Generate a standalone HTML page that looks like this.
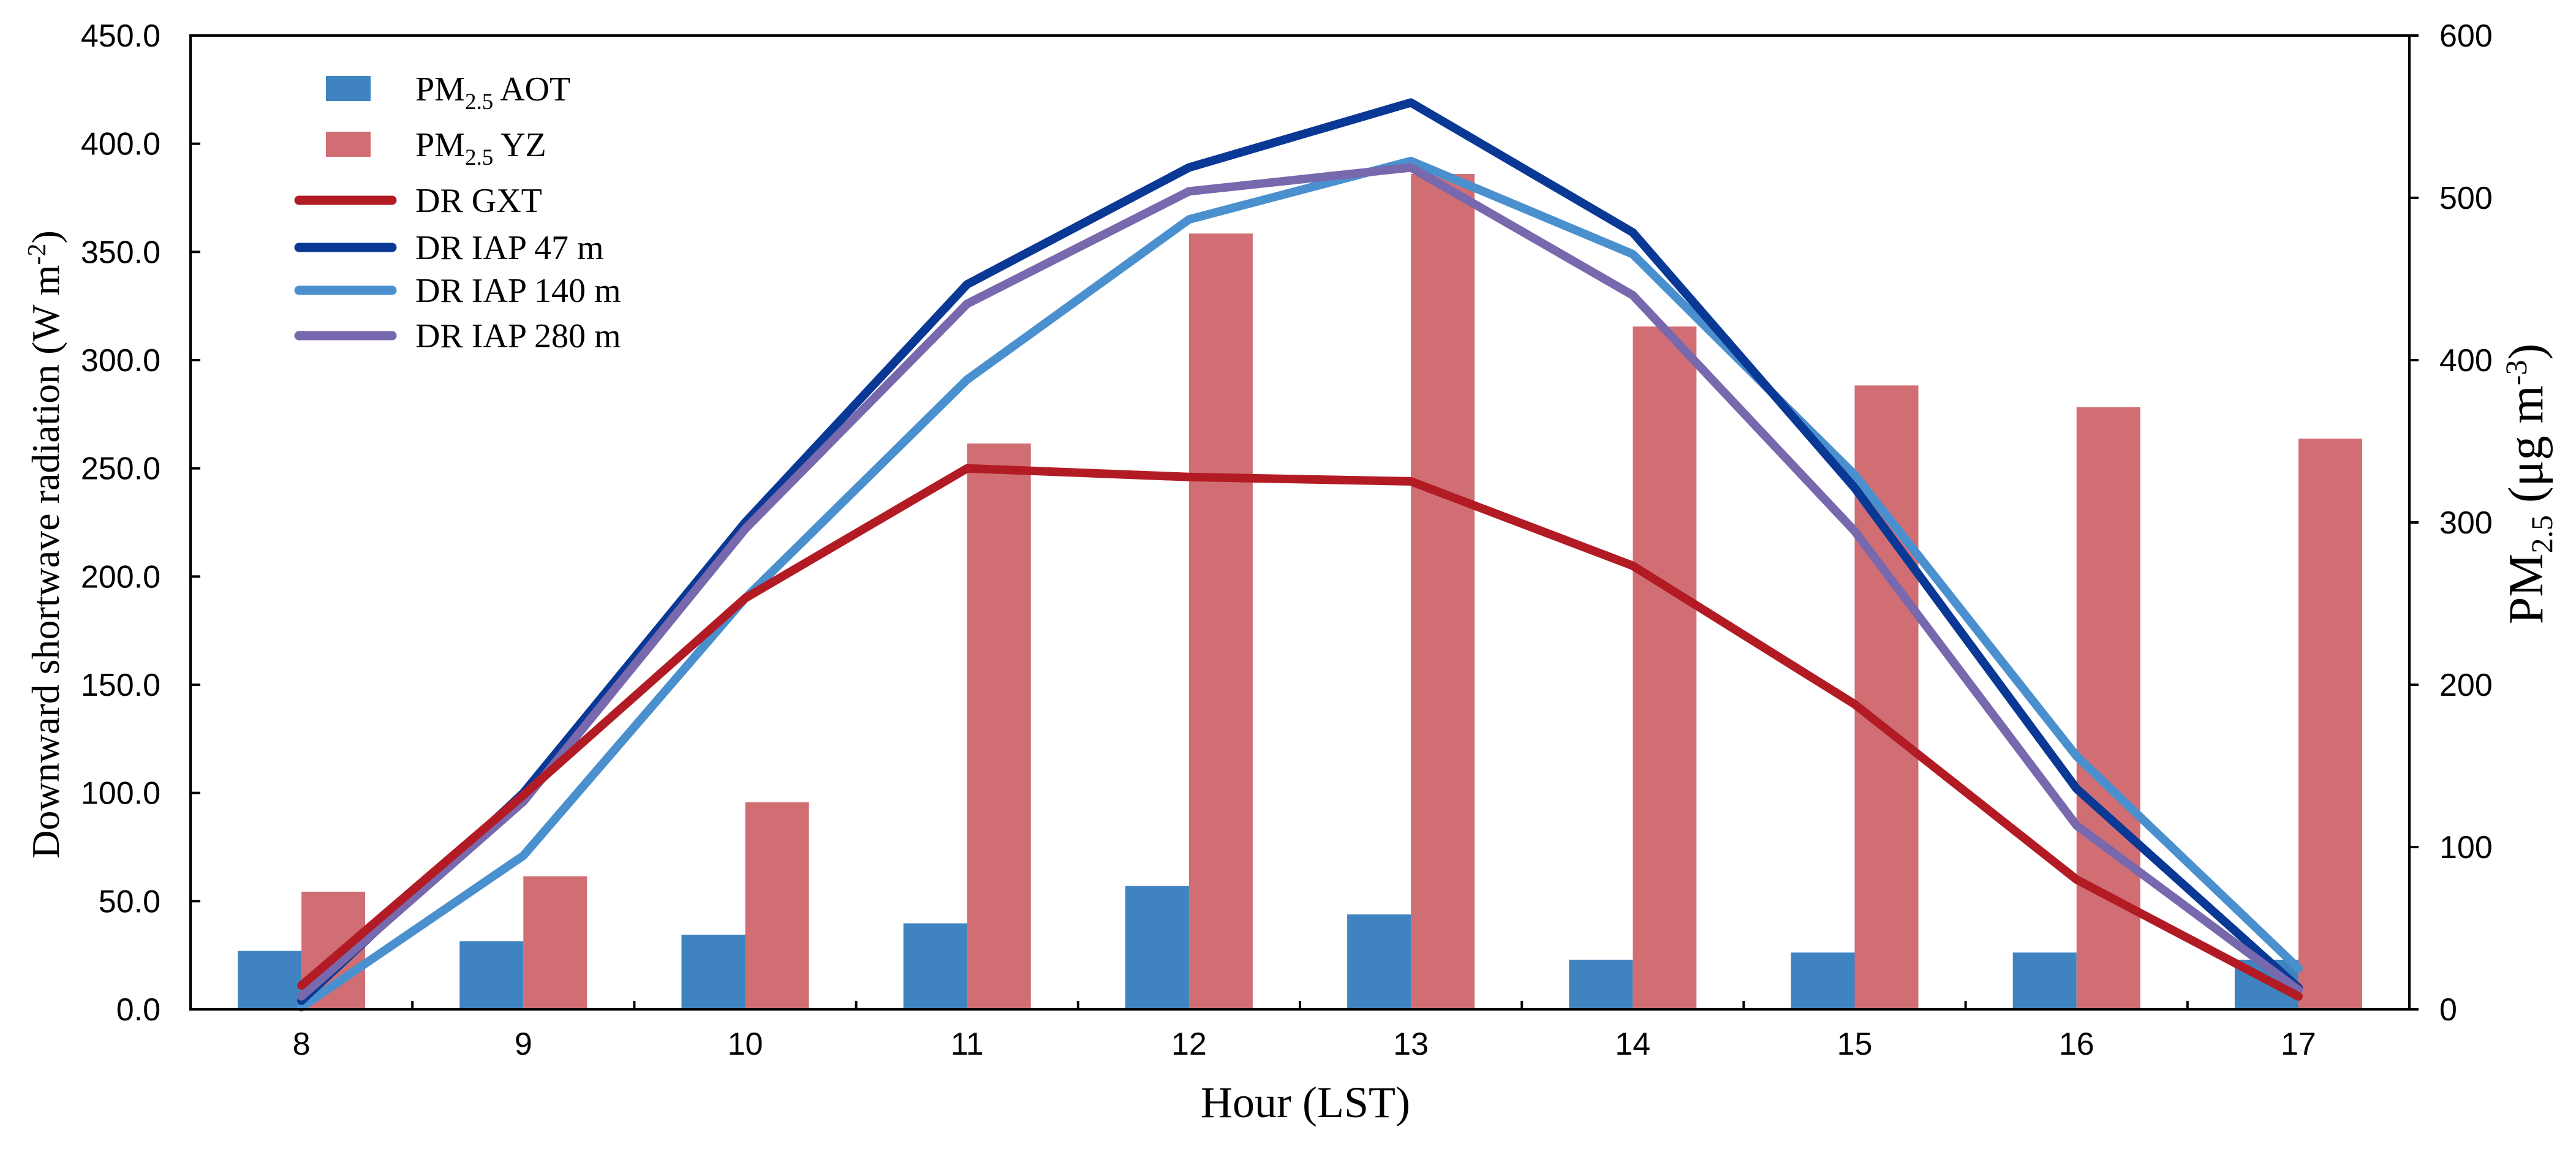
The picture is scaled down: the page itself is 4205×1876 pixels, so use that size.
<!DOCTYPE html>
<html><head><meta charset="utf-8"><style>
html,body{margin:0;padding:0;background:#fff;}
svg{display:block;}
</style></head><body>
<svg id="chart" xmlns="http://www.w3.org/2000/svg" width="4205" height="1876" viewBox="0 0 4205 1876">
<rect x="0" y="0" width="4205" height="1876" fill="#fff"/>
<g id="bars"></g>
<g id="lines"></g>
<g id="axes"></g>
<g id="legend"></g>
<text x="2131" y="1824" text-anchor="middle" font-family="Liberation Serif, serif" font-size="72">Hour (LST)</text>
<text transform="translate(96,889) rotate(-90)" text-anchor="middle" font-family="Liberation Serif, serif" font-size="64">Downward shortwave radiation  (W m<tspan dy="-22" font-size="42">-2</tspan><tspan dy="22">)</tspan></text>
<text transform="translate(4150,790) rotate(-90)" text-anchor="middle" font-family="Liberation Serif, serif" font-size="80">PM<tspan dy="16" font-size="50">2.5</tspan><tspan dy="-16"> (μg m</tspan><tspan dy="-26" font-size="50">-3</tspan><tspan dy="26">)</tspan></text>
</svg>
<script>
const hours = ['8','9','10','11','12','13','14','15','16','17'];
const pmAOT = [36, 42, 46, 53, 76, 58.5, 30.6, 35, 35, 30.6];
const pmYZ = [72.5, 82, 127.6, 348.6, 478, 514.7, 420.7, 384.4, 371, 351.6];
const drGXT = [11, 99, 190, 250, 246, 244, 205, 141, 60, 6];
const drIAP47 = [4, 100, 225, 335, 389, 419, 359, 241, 102, 10];
const drIAP140 = [1, 71, 190, 291, 365, 392, 349, 247, 117, 19];
const drIAP280 = [6, 96, 222, 326, 378, 389, 330, 221, 85, 9];
const leftTicks = ['0.0','50.0','100.0','150.0','200.0','250.0','300.0','350.0','400.0','450.0'];
const rightTicks = ['0','100','200','300','400','500','600'];

const NS = 'http://www.w3.org/2000/svg';
const X0 = 311, X1 = 3933, Y0 = 1648, YT = 58;
const catW = (X1 - X0) / hours.length;
function xc(i){ return X0 + (i + 0.5) * catW; }
function yL(v){ return Y0 - v / 450 * (Y0 - YT); }
function yR(v){ return Y0 - v / 600 * (Y0 - YT); }
function mk(tag, attrs, parent){
  const e = document.createElementNS(NS, tag);
  for (const k in attrs) e.setAttribute(k, attrs[k]);
  parent.appendChild(e);
  return e;
}
const gb = document.getElementById('bars');
const gl = document.getElementById('lines');
const ga = document.getElementById('axes');
const gg = document.getElementById('legend');

hours.forEach((h, i) => {
  const c = xc(i);
  const b1 = mk('rect', {x: c - 104, y: yR(pmAOT[i]), width: 104, height: Y0 - yR(pmAOT[i]), fill: '#3f84c0'}, gb);
  
  
  const b2 = mk('rect', {x: c, y: yR(pmYZ[i]), width: 104, height: Y0 - yR(pmYZ[i]), fill: '#d06e74'}, gb);
  
  
});

const series = [
  ['dr-gxt-line', drGXT, '#b31b24'],
  ['dr-iap-47-line', drIAP47, '#0a3895'],
  ['dr-iap-140-line', drIAP140, '#4a90cf'],
  ['dr-iap-280-line', drIAP280, '#7868ad']
];
const order = [2, 1, 3, 0];
order.forEach(k => {
  const s = series[k];
  const pts = s[1].map((v, i) => xc(i).toFixed(1) + ',' + yL(v).toFixed(1)).join(' ');
  const p = mk('polyline', {points: pts, fill: 'none', stroke: s[2], 'stroke-width': 14, 'stroke-linejoin': 'round', 'stroke-linecap': 'round'}, gl);
  
  
});

const fr = mk('rect', {x: X0, y: YT, width: X1 - X0, height: Y0 - YT, fill: 'none', stroke: '#000', 'stroke-width': 4}, ga);



leftTicks.forEach((t, i) => {
  const y = yL(i * 50);
  const tk = mk('line', {x1: X0, x2: X0 + 16, y1: y, y2: y, stroke: '#000', 'stroke-width': 4}, ga);
  
  
  const tx = mk('text', {x: 262, y: y + 18, 'text-anchor': 'end', 'font-family': 'Liberation Sans, sans-serif', 'font-size': 52}, ga);
  tx.textContent = t;
  
  
});
rightTicks.forEach((t, i) => {
  const y = yR(i * 100);
  const tk = mk('line', {x1: X1, x2: X1 + 15, y1: y, y2: y, stroke: '#000', 'stroke-width': 4}, ga);
  
  
  const tx = mk('text', {x: 3982, y: y + 18, 'text-anchor': 'start', 'font-family': 'Liberation Sans, sans-serif', 'font-size': 52}, ga);
  tx.textContent = t;
  
  
});
hours.forEach((h, i) => {
  if (i > 0) {
    const xb = X0 + i * catW;
    const tk = mk('line', {x1: xb, x2: xb, y1: Y0, y2: Y0 - 14, stroke: '#000', 'stroke-width': 4}, ga);
    
    
  }
  const tx = mk('text', {x: xc(i), y: 1722, 'text-anchor': 'middle', 'font-family': 'Liberation Sans, sans-serif', 'font-size': 52}, ga);
  tx.textContent = h;
  
  
});

const legendRows = [
  {y: 145, type: 'box', color: '#3f84c0', main: 'PM', sub: '2.5', rest: ' AOT', name: 'legend-pm25-aot'},
  {y: 236, type: 'box', color: '#d06e74', main: 'PM', sub: '2.5', rest: ' YZ', name: 'legend-pm25-yz'},
  {y: 327, type: 'line', color: '#b31b24', main: 'DR GXT', name: 'legend-dr-gxt'},
  {y: 404, type: 'line', color: '#0a3895', main: 'DR IAP 47 m', name: 'legend-dr-iap-47'},
  {y: 474, type: 'line', color: '#4a90cf', main: 'DR IAP 140 m', name: 'legend-dr-iap-140'},
  {y: 548, type: 'line', color: '#7868ad', main: 'DR IAP 280 m', name: 'legend-dr-iap-280'}
];
legendRows.forEach(r => {
  const g = mk('g', {}, gg);
  
  
  if (r.type === 'box') {
    mk('rect', {x: 532, y: r.y - 21, width: 73, height: 41, fill: r.color}, g);
  } else {
    mk('line', {x1: 488, x2: 640, y1: r.y, y2: r.y, stroke: r.color, 'stroke-width': 15, 'stroke-linecap': 'round'}, g);
  }
  const t = mk('text', {x: 678, y: r.y + 19, 'font-family': 'Liberation Serif, serif', 'font-size': 56}, g);
  if (r.sub) {
    t.appendChild(document.createTextNode(r.main));
    const s = mk('tspan', {dy: 14, 'font-size': 37}, t);
    s.textContent = r.sub;
    const s2 = mk('tspan', {dy: -14}, t);
    s2.textContent = r.rest;
  } else {
    t.textContent = r.main;
  }
});
</script>
</body></html>
